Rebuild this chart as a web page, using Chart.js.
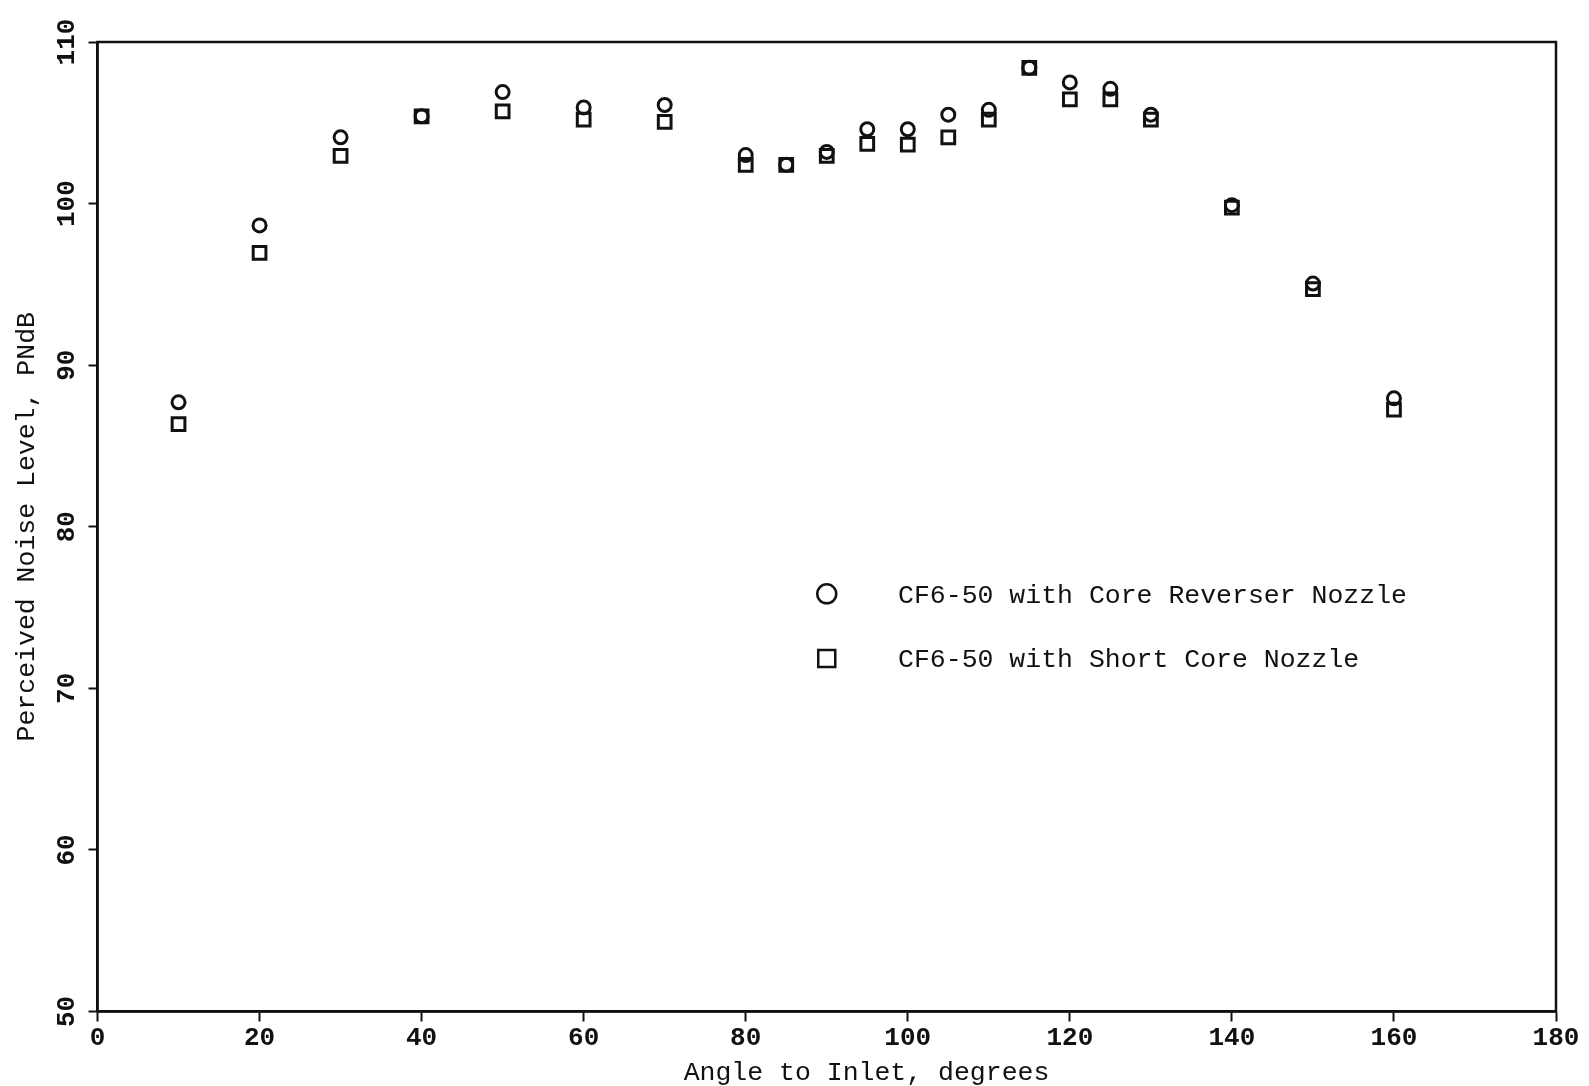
<!DOCTYPE html>
<html>
<head>
<meta charset="utf-8">
<title>Perceived Noise Level vs Angle to Inlet</title>
<script src="https://cdn.jsdelivr.net/npm/chart.js@4.4.0/dist/chart.umd.min.js"></script>
<style>
	html, body { margin: 0; padding: 0; background: #fff; }
	#wrap { width: 1589px; height: 1086px; position: relative; }
</style>
</head>
<body>
<div id="wrap"><canvas id="noiseChart"></canvas></div>
<script>
// Angle to inlet (degrees)
const angles = [10, 20, 30, 40, 50, 60, 70, 80, 85, 90, 95, 100, 105, 110, 115, 120, 125, 130, 140, 150, 160]
// PNdB
const reverserNozzle = [87.7, 98.65, 104.1, 105.4, 106.9, 105.95, 106.1, 103.0, 102.4, 103.2, 104.6, 104.6, 105.5, 105.8, 108.4, 107.5, 107.1, 105.5, 99.9, 95.05, 87.95]
const shortNozzle = [86.35, 96.95, 102.95, 105.4, 105.7, 105.2, 105.05, 102.4, 102.4, 102.95, 103.7, 103.65, 104.1, 105.2, 108.4, 106.45, 106.45, 105.2, 99.75, 94.7, 87.25]
const seriesLabels = ['CF6-50 with Core Reverser Nozzle', 'CF6-50 with Short Core Nozzle']
const xTickValues = [0, 20, 40, 60, 80, 100, 120, 140, 160, 180]
const yTickValues = [50, 60, 70, 80, 90, 100, 110]

const FONT = "'Liberation Mono', 'DejaVu Sans Mono', monospace"
const INK = '#111'

function toPoints(xs, ys) {
	return xs.map((x, i) => ({ x: x, y: ys[i] }))
}

// box around the plot area
const frame = {
	id: 'frame',
	afterDatasetsDraw(chart) {
		const a = chart.chartArea
		const ctx = chart.ctx
		ctx.save()
		ctx.strokeStyle = INK
		ctx.lineWidth = 2.5
		ctx.strokeRect(a.left, a.top, a.right - a.left, a.bottom - a.top)
		ctx.restore()
	},
}

// legend sitting inside the plot, placed in data units
const innerLegend = {
	id: 'innerLegend',
	afterDraw(chart, args, opts) {
		const ctx = chart.ctx
		const xs = chart.scales.x
		const ys = chart.scales.y
		const mx = xs.getPixelForValue(opts.markerAt)
		const tx = xs.getPixelForValue(opts.textAt)
		ctx.save()
		ctx.strokeStyle = INK
		ctx.fillStyle = INK
		ctx.lineWidth = 2.5
		ctx.font = `26.5px ${FONT}`
		ctx.textBaseline = 'middle'
		chart.data.datasets.forEach((ds, i) => {
			const my = ys.getPixelForValue(opts.rows[i])
			ctx.beginPath()
			if (ds.pointStyle === 'circle') {
				ctx.arc(mx, my, 9.5, 0, Math.PI * 2)
			} else {
				ctx.rect(mx - 8.5, my - 8.5, 17, 17)
			}
			ctx.stroke()
			ctx.fillText(ds.label, tx, my + 2)
		})
		ctx.restore()
	},
}

const ctx = document.getElementById('noiseChart').getContext('2d')
const noiseChart = new Chart(ctx, {
	type: 'scatter',
	data: {
		datasets: [
			{
				label: seriesLabels[0],
				data: toPoints(angles, reverserNozzle),
				pointStyle: 'circle',
				pointRadius: 6.5,
				pointBorderWidth: 3,
				borderColor: INK,
				backgroundColor: 'rgba(0,0,0,0)',
			},
			{
				label: seriesLabels[1],
				data: toPoints(angles, shortNozzle),
				pointStyle: 'rect',
				pointRadius: 9,
				pointBorderWidth: 3,
				borderColor: INK,
				backgroundColor: 'rgba(0,0,0,0)',
			},
		],
	},
	options: {
		responsive: true,
		maintainAspectRatio: false,
		animation: false,
		layout: {
			padding: { left: 14, right: 33, top: 42, bottom: 0 },
		},
		plugins: {
			legend: { display: false },
			tooltip: { enabled: false },
			innerLegend: { markerAt: 90, textAt: 98.8, rows: [75.85, 71.85] },
		},
		scales: {
			x: {
				type: 'linear',
				min: 0,
				max: 180,
				afterBuildTicks: axis => {
					axis.ticks = xTickValues.map(v => ({ value: v }))
				},
				border: { color: INK, width: 2.5 },
				grid: {
					drawOnChartArea: false,
					drawTicks: true,
					tickLength: 10,
					tickWidth: 2,
					tickColor: INK,
				},
				ticks: {
					color: INK,
					padding: 4,
					maxRotation: 0,
					font: { family: FONT, size: 26, weight: 'bold', lineHeight: 1 },
				},
				title: {
					display: true,
					// the typed caption sits a little right of centre
					text: '     Angle to Inlet, degrees',
					color: INK,
					padding: { top: 4, bottom: 0 },
					font: { family: FONT, size: 26.5, lineHeight: 1 },
				},
			},
			y: {
				type: 'linear',
				min: 50,
				max: 110,
				afterBuildTicks: axis => {
					axis.ticks = yTickValues.map(v => ({ value: v }))
				},
				border: { color: INK, width: 2.5 },
				grid: {
					drawOnChartArea: false,
					drawTicks: true,
					tickLength: 9,
					tickWidth: 2,
					tickColor: INK,
				},
				ticks: {
					color: INK,
					padding: -2,
					minRotation: 90,
					maxRotation: 90,
					crossAlign: 'center',
					font: { family: FONT, size: 26, weight: 'bold', lineHeight: 1 },
				},
				title: {
					display: true,
					text: 'Perceived Noise Level, PNdB',
					color: INK,
					padding: { top: 0, bottom: 26 },
					font: { family: FONT, size: 26.5, lineHeight: 1 },
				},
			},
		},
	},
	plugins: [frame, innerLegend],
})
</script>
</body>
</html>
